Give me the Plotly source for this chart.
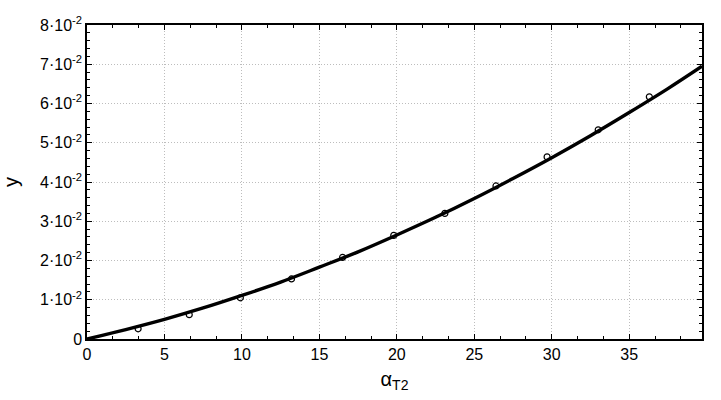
import plotly.graph_objects as go

# fitted curve
curve_x = [0, 2.5, 5, 7.5, 10, 12.5, 15, 17.5, 20, 22.5, 25, 27.5, 30, 32.5, 35, 37.5, 39.7]
curve_y = [0, 0.0024, 0.0050, 0.0079, 0.0111, 0.0145, 0.0183, 0.0222, 0.0265, 0.0310, 0.0358, 0.0409, 0.0462, 0.0518, 0.0577, 0.0638, 0.0695]

# measured points (open circles)
pts_x = [3.3, 6.6, 9.9, 13.2, 16.5, 19.8, 23.1, 26.4, 29.7, 33.0, 36.3]
pts_y = [0.0026, 0.0062, 0.0105, 0.0153, 0.0208, 0.0264, 0.0320, 0.0390, 0.0464, 0.0533, 0.0617]

x_ticks = [0, 5, 10, 15, 20, 25, 30, 35]
y_ticks = [0, 0.01, 0.02, 0.03, 0.04, 0.05, 0.06, 0.07, 0.08]
y_ticktext = ["0"] + [f"{i}·10<sup>-2</sup>" for i in range(1, 9)]

FONT = "Liberation Sans, Arial, sans-serif"

fig = go.Figure()
fig.add_trace(go.Scatter(
    x=pts_x, y=pts_y, mode="markers",
    marker=dict(symbol="circle-open", size=6, color="black", line=dict(width=1.2)),
    showlegend=False, hoverinfo="skip"))
fig.add_trace(go.Scatter(
    x=curve_x, y=curve_y, mode="lines", line=dict(color="black", width=3.4, shape="spline"),
    showlegend=False))

fig.update_layout(
    width=721, height=400,
    margin=dict(l=87, r=19, t=25, b=61, autoexpand=False),
    paper_bgcolor="white", plot_bgcolor="white",
    font=dict(family=FONT, size=16, color="black"),
    xaxis=dict(
        range=[0, 39.7], tickvals=x_ticks, ticktext=[str(v) for v in x_ticks],
        showline=True, linecolor="black", linewidth=1.5, mirror="ticks",
        ticks="inside", ticklen=5, tickcolor="black",
        showgrid=True, gridcolor="#bdbdbd", griddash="1px,2px", gridwidth=1,
        zeroline=False, automargin=False,
        minor=dict(dtick=5/3, tick0=0, ticks="inside", ticklen=3, tickcolor="black", showgrid=False),
        title=dict(text="α<sub>T2</sub>", font=dict(size=20), standoff=10),
        tickfont=dict(size=16),
    ),
    yaxis=dict(
        range=[0, 0.08], tickvals=y_ticks, ticktext=y_ticktext,
        showline=True, linecolor="black", linewidth=1.5, mirror="ticks",
        ticks="inside", ticklen=5, tickcolor="black",
        showgrid=True, gridcolor="#bdbdbd", griddash="1px,2px", gridwidth=1,
        zeroline=False, automargin=False,
        minor=dict(dtick=0.002, tick0=0, ticks="inside", ticklen=3, tickcolor="black", showgrid=False),
        title=dict(text="y", font=dict(size=20), standoff=18),
        tickfont=dict(size=16),
    ),
)

fig.write_html("out.html", config={"displayModeBar": False})
with open("out.html", encoding="utf-8") as f:
    html = f.read()
html = html.replace("<body>", '<body style="margin:0;padding:0">', 1)
with open("out.html", "w", encoding="utf-8") as f:
    f.write(html)
